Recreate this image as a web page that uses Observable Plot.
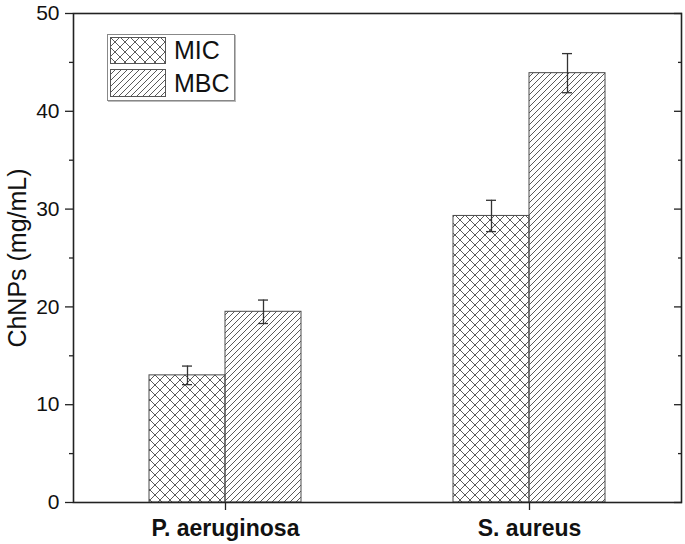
<!DOCTYPE html>
<html>
<head>
<meta charset="utf-8">
<script src="https://cdn.jsdelivr.net/npm/d3@7"></script>
<script src="https://cdn.jsdelivr.net/npm/@observablehq/plot@0.6"></script>
<style>
  html, body { margin: 0; padding: 0; background: white; }
  #wrap { position: relative; width: 685px; height: 544px; font-family: "Liberation Sans", Arial, sans-serif; }
  #legend { position: absolute; left: 107px; top: 34px; width: 126px; height: 65px; border: 1px solid #888; box-shadow: 1px 1px 0 #bbb; background: white; }
  .row { position: absolute; left: 2px; display: flex; align-items: center; }
  .row svg { display: block; }
  .row span { margin-left: 8px; font-size: 25px; color: #111; line-height: 1; }
</style>
</head>
<body>
<svg width="0" height="0" style="position:absolute">
  <defs>
    <pattern id="hatchMIC" patternUnits="userSpaceOnUse" width="10" height="10">
      <path d="M0,0L10,10M-2.5,7.5L2.5,12.5M7.5,-2.5L12.5,2.5M0,10L10,0M-2.5,2.5L2.5,-2.5M7.5,12.5L12.5,7.5" stroke="#5a5a5a" stroke-width="1" fill="none"/>
    </pattern>
    <pattern id="hatchMBC" patternUnits="userSpaceOnUse" width="6" height="6">
      <path d="M0,6L6,0M-1.5,1.5L1.5,-1.5M4.5,7.5L7.5,4.5" stroke="#5a5a5a" stroke-width="1" fill="none"/>
    </pattern>
  </defs>
</svg>
<div id="wrap">
  <div id="chart"></div>
  <div id="legend">
    <div class="row" style="top:2px"><svg width="56" height="27"><rect x="0.5" y="0.5" width="55" height="26" fill="url(#hatchMIC)" stroke="#555"/></svg><span>MIC</span></div>
    <div class="row" style="top:34px"><svg width="56" height="28"><rect x="0.5" y="0.5" width="55" height="27" fill="url(#hatchMBC)" stroke="#555"/></svg><span>MBC</span></div>
  </div>
</div>
<script>
const categories = ["P. aeruginosa", "S. aureus"];
const series = ["MIC", "MBC"];
const micValues = [13.0, 29.3];
const micErrors = [0.95, 1.6];
const mbcValues = [19.5, 43.9];
const mbcErrors = [1.2, 2.0];
const yMajorTicks = [0, 10, 20, 30, 40, 50];
const yMinorTicks = [5, 15, 25, 35, 45];
const yLabel = "ChNPs (mg/mL)";

const mic = categories.map((c, i) => ({category: c, series: "MIC", value: micValues[i], lo: micValues[i] - micErrors[i], hi: micValues[i] + micErrors[i]}));
const mbc = categories.map((c, i) => ({category: c, series: "MBC", value: mbcValues[i], lo: mbcValues[i] - mbcErrors[i], hi: mbcValues[i] + mbcErrors[i]}));

const font = "'Liberation Sans', Arial, sans-serif";
const axisColor = "#222";

const chart = Plot.plot({
  width: 685,
  height: 544,
  marginLeft: 73,
  marginRight: 4,
  marginTop: 13,
  marginBottom: 42,
  style: {fontFamily: font, background: "white", color: "#111"},
  x: {type: "band", domain: categories, paddingInner: 0.5, paddingOuter: 0.25, axis: null},
  y: {domain: [0, 50], axis: null},
  marks: [
    Plot.barY(mic, {x: "category", y: "value", fill: "url(#hatchMIC)", stroke: "#4a4a4a", strokeWidth: 1, insetRight: 76}),
    Plot.barY(mbc, {x: "category", y: "value", fill: "url(#hatchMBC)", stroke: "#4a4a4a", strokeWidth: 1, insetLeft: 76}),
    Plot.ruleX(mic, {x: "category", y1: "lo", y2: "hi", dx: -38, stroke: "#333", strokeWidth: 1.3}),
    Plot.ruleX(mbc, {x: "category", y1: "lo", y2: "hi", dx: 38, stroke: "#333", strokeWidth: 1.3}),
    Plot.tickY(mic, {x: "category", y: "lo", insetLeft: 33, insetRight: 109, stroke: "#333", strokeWidth: 1.3}),
    Plot.tickY(mic, {x: "category", y: "hi", insetLeft: 33, insetRight: 109, stroke: "#333", strokeWidth: 1.3}),
    Plot.tickY(mbc, {x: "category", y: "lo", insetLeft: 109, insetRight: 33, stroke: "#333", strokeWidth: 1.3}),
    Plot.tickY(mbc, {x: "category", y: "hi", insetLeft: 109, insetRight: 33, stroke: "#333", strokeWidth: 1.3}),
    Plot.frame({stroke: axisColor, strokeWidth: 1.6}),
    Plot.axisY({anchor: "left", ticks: yMajorTicks, tickSize: 8, tickPadding: 6, fontSize: 21, label: null, stroke: axisColor, strokeWidth: 1.3}),
    Plot.axisY({anchor: "left", ticks: yMinorTicks, tickSize: 4, tickFormat: () => "", label: null, stroke: axisColor, strokeWidth: 1.3}),
    Plot.axisY({anchor: "right", ticks: yMajorTicks, tickSize: 8, insetRight: 8, tickFormat: () => "", label: null, stroke: axisColor, strokeWidth: 1.3}),
    Plot.axisY({anchor: "right", ticks: yMinorTicks, tickSize: 4, insetRight: 4, tickFormat: () => "", label: null, stroke: axisColor, strokeWidth: 1.3}),
    Plot.axisX({anchor: "bottom", tickSize: 8, tickPadding: 9, fontSize: 23, fontWeight: "bold", label: null, stroke: axisColor, strokeWidth: 1.3}),
    Plot.text([yLabel], {text: d => d, frameAnchor: "left", dx: -56, rotate: -90, fontSize: 25, textAnchor: "middle", lineAnchor: "middle", fill: "#111"})
  ]
});
document.getElementById("chart").appendChild(chart);
</script>
</body>
</html>
